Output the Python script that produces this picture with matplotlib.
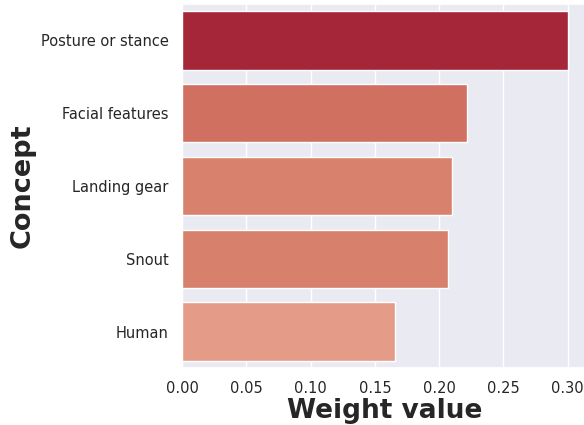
import matplotlib
matplotlib.use("Agg")
import matplotlib.pyplot as plt
import seaborn as sns

concepts = ["Posture or stance", "Facial features", "Landing gear", "Snout", "Human"]
weights = [0.300, 0.222, 0.210, 0.207, 0.166]
colors = ["#a52639", "#cf7060", "#d8826d", "#d7806c", "#e49c88"]

sns.set_theme(style="darkgrid")
plt.rcParams['font.family'] = ['DejaVu Sans']

fig = plt.figure(figsize=(5.84, 4.25), dpi=100)
ax = fig.add_axes([182/584, 1-368/425, (587-182)/584, (368-4)/425])

y = list(range(len(concepts)))
ax.barh(y, weights, height=0.8, color=colors, edgecolor="white", linewidth=1)
ax.set_yticks(y)
ax.set_yticklabels(concepts)
ax.set_ylim(len(concepts)-0.5, -0.5)
ax.set_xlim(0, 0.315)
ax.set_xticks([0.0, 0.05, 0.10, 0.15, 0.20, 0.25, 0.30])
ax.set_xticklabels(["0.00", "0.05", "0.10", "0.15", "0.20", "0.25", "0.30"])
ax.yaxis.grid(False)
ax.tick_params(labelsize=10.5)
ax.set_xlabel("Weight value", fontsize=19, fontweight="bold", labelpad=1.5)
ax.set_ylabel("Concept", fontsize=19.5, fontweight="bold")

fig.savefig("out.png", dpi=100)
